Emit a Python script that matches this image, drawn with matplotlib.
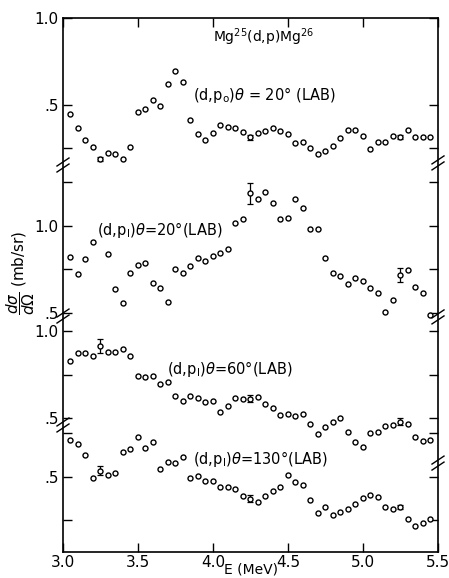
import numpy as np
import matplotlib.pyplot as plt

# energies (MeV) of the measured points
energy = [3.05, 3.10, 3.15, 3.20, 3.25, 3.30, 3.35, 3.40, 3.45, 3.50,
          3.55, 3.60, 3.65, 3.70, 3.75, 3.80, 3.85, 3.90, 3.95, 4.00,
          4.05, 4.10, 4.15, 4.20, 4.25, 4.30, 4.35, 4.40, 4.45, 4.50,
          4.55, 4.60, 4.65, 4.70, 4.75, 4.80, 4.85, 4.90, 4.95, 5.00,
          5.05, 5.10, 5.15, 5.20, 5.25, 5.30, 5.35, 5.40, 5.45]
energy_p1_20 = [e for e in energy if e != 3.25]   # no point at 3.25 there

# d sigma / d Omega (mb/sr)
p0_20 = [0.448, 0.366, 0.297, 0.259, 0.188, 0.222, 0.216, 0.188, 0.259, 0.462,
         0.477, 0.529, 0.496, 0.619, 0.697, 0.630, 0.414, 0.332, 0.297, 0.337,
         0.385, 0.375, 0.366, 0.347, 0.315, 0.341, 0.352, 0.366, 0.350, 0.332,
         0.280, 0.289, 0.251, 0.218, 0.237, 0.264, 0.312, 0.356, 0.356, 0.322,
         0.245, 0.286, 0.286, 0.322, 0.318, 0.356, 0.316, 0.316, 0.316]
p1_20 = [0.824, 0.726, 0.810, 0.910, 0.837, 0.638, 0.556, 0.728, 0.776,
         0.789, 0.671, 0.642, 0.565, 0.751, 0.732, 0.770, 0.816, 0.800, 0.826,
         0.843, 0.868, 1.019, 1.042, 1.188, 1.153, 1.195, 1.130, 1.038, 1.046,
         1.153, 1.105, 0.981, 0.985, 0.814, 0.732, 0.713, 0.667, 0.699, 0.686,
         0.646, 0.613, 0.507, 0.575, 0.718, 0.747, 0.648, 0.613, 0.490]
p1_60 = [0.829, 0.874, 0.874, 0.858, 0.916, 0.881, 0.881, 0.897, 0.854, 0.743,
         0.734, 0.743, 0.695, 0.709, 0.625, 0.600, 0.625, 0.613, 0.590, 0.600,
         0.533, 0.571, 0.613, 0.609, 0.611, 0.619, 0.580, 0.556, 0.517, 0.523,
         0.513, 0.523, 0.467, 0.410, 0.448, 0.475, 0.498, 0.421, 0.364, 0.335,
         0.412, 0.421, 0.456, 0.460, 0.479, 0.466, 0.389, 0.370, 0.374]
p1_130 = [0.713, 0.690, 0.625, 0.492, 0.536, 0.511, 0.525, 0.645, 0.659, 0.728,
          0.668, 0.703, 0.544, 0.588, 0.579, 0.617, 0.492, 0.506, 0.479, 0.479,
          0.441, 0.441, 0.433, 0.391, 0.375, 0.355, 0.391, 0.420, 0.441, 0.511,
          0.473, 0.454, 0.368, 0.295, 0.326, 0.282, 0.297, 0.316, 0.345, 0.381,
          0.397, 0.383, 0.329, 0.314, 0.326, 0.257, 0.218, 0.234, 0.257]

# error bars (energy, half width)
err_p0_20 = [(3.25, 0.012), (4.25, 0.015), (5.25, 0.012)]
err_p1_20 = [(4.25, 0.06), (5.25, 0.04)]
err_p1_60 = [(3.25, 0.04), (4.25, 0.02), (5.25, 0.02)]
err_p1_130 = [(3.25, 0.025), (4.25, 0.02), (5.25, 0.012)]

# stacked panels: vertical offset of each panel on the common axis
panels = [
    (energy, p0_20, err_p0_20, 2.069, [(1.0, '1.0'), (0.5, '.5'), (0.25, '')],
     r'(d,p$_{\rm o}$)$\theta$ = 20$\degree$ (LAB)', 3.867, 0.557),
    (energy_p1_20, p1_20, err_p1_20, 0.874,
     [(1.25, ''), (1.0, '1.0'), (0.75, ''), (0.5, '.5')],
     r'(d,p$_{\rm l}$)$\theta$=20$\degree$(LAB)', 3.227, 0.977),
    (energy, p1_60, err_p1_60, 0.270, [(1.0, '1.0'), (0.75, ''), (0.5, '.5')],
     r'(d,p$_{\rm l}$)$\theta$=60$\degree$(LAB)', 3.693, 0.782),
    (energy, p1_130, err_p1_130, -0.069, [(0.75, ''), (0.5, '.5'), (0.25, '')],
     r'(d,p$_{\rm l}$)$\theta$=130$\degree$(LAB)', 3.867, 0.603),
]

plt.rcParams['mathtext.fontset'] = 'dejavusans'

fig = plt.figure(figsize=(4.49, 5.78), dpi=100)
ax = fig.add_axes([0.1403, 0.045, 0.8352, 0.9239])

yt, yl = [], []
for en, vals, errs, off, ticks, label, lx, ly in panels:
    y = np.array(vals) + off
    for e, d in errs:
        i = en.index(e)
        ax.errorbar(e, y[i], yerr=d, fmt='none', ecolor='black',
                    elinewidth=0.9, capsize=2.0, capthick=0.9)
    ax.plot(en, y, 'o', mfc='white', mec='black', ms=3.6, mew=1.0,
            clip_on=False, zorder=3)
    for t, s in ticks:
        yt.append(t + off)
        yl.append(s)
    ax.text(lx, ly + off, label, fontsize=10.5, ha='left', va='center')

ax.text(4.0, 0.891 + 2.069, r'Mg$^{25}$(d,p)Mg$^{26}$', fontsize=10,
        ha='left', va='center')

ax.set_xlim(3.0, 5.5)
ax.set_ylim(0, 3.069)
ax.set_xticks([3.0, 3.5, 4.0, 4.5, 5.0, 5.5])
ax.set_xticklabels(['3.0', '3.5', '4.0', '4.5', '5.0', '5.5'], fontsize=11)
ax.set_yticks(yt)
ax.set_yticklabels(yl, fontsize=11)
ax.tick_params(direction='in', length=6.5, width=1.0, top=True, right=True, pad=3)
ax.tick_params(axis='x', pad=2)
for sp in ax.spines.values():
    sp.set_linewidth(1.2)

# axis break marks
def brk(xf, g):
    yf = g / 3.069
    for s in (-3.0, 3.0):
        ax.plot([xf - 6 / 375, xf + 6 / 375],
                [yf + (s - 4) / 534, yf + (s + 4) / 534],
                color='black', lw=1.0, transform=ax.transAxes, clip_on=False)

for g in (2.224, 1.356, 0.730):
    brk(0.0, g)
for g in (2.236, 1.351, 0.511):
    brk(1.0, g)

fig.text(0.045, 0.528, r'$\dfrac{d\sigma}{d\Omega}$ (mb/sr)', rotation=90,
         fontsize=11, ha='center', va='center')
fig.text(0.558, 0.002, 'E (MeV)', fontsize=10, ha='center', va='bottom')

fig.savefig('out.png', dpi=100)
